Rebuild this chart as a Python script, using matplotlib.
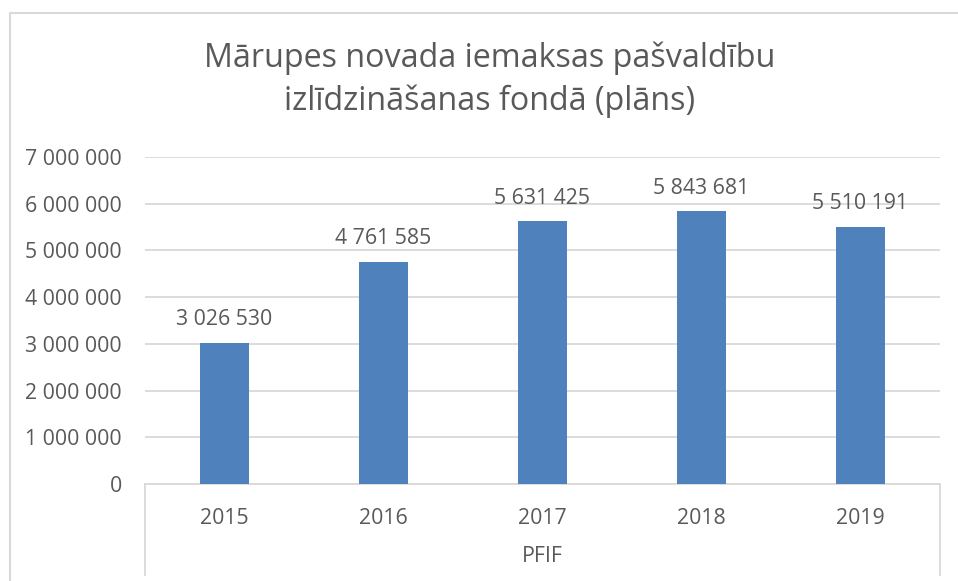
import matplotlib
matplotlib.use("Agg")
import matplotlib.pyplot as plt
from matplotlib.lines import Line2D

plt.rcParams['font.family'] = ['Open Sans', 'DejaVu Sans']

years = ["2015", "2016", "2017", "2018", "2019"]
values = [3026530, 4761585, 5631425, 5843681, 5510191]
yticks = [0, 1000000, 2000000, 3000000, 4000000, 5000000, 6000000, 7000000]
title = "Mārupes novada iemaksas pašvaldību\nizlīdzināšanas fondā (plāns)"
group_label = "PFIF"

W, H = 958, 581
fig = plt.figure(figsize=(W / 100, H / 100), dpi=100)
text_color = "#595959"
grid_color = "#D9D9D9"
bar_color = "#4F81BD"

def fx(px):
    return px / W

def fy(py):
    return 1 - py / H

ax = fig.add_axes([fx(145), fy(484), fx(940) - fx(145), fy(157) - fy(484)])
x = list(range(len(years)))
ax.bar(x, values, width=0.31, color=bar_color, zorder=3)
ax.set_xlim(-0.5, len(years) - 0.5)
ax.set_ylim(0, 7000000)
ax.set_yticks(yticks)
ax.set_yticklabels([f"{v:,}".replace(",", " ") for v in yticks])
ax.set_xticks(x)
ax.set_xticklabels(years)
ax.tick_params(axis='y', length=0, pad=16.5, labelsize=15.3, labelcolor=text_color)
ax.tick_params(axis='x', length=0, pad=17, labelsize=15.3, labelcolor=text_color)
ax.grid(axis='y', color=grid_color, linewidth=1.3, zorder=0)
for s in ['top', 'right', 'left']:
    ax.spines[s].set_visible(False)
ax.spines['bottom'].set_color(grid_color)
ax.spines['bottom'].set_linewidth(1.3)

for xi, v in zip(x, values):
    ax.annotate(f"{v:,}".replace(",", " "), (xi, v), xytext=(0, 12.5),
                textcoords='offset points', ha='center', va='baseline',
                fontsize=15.3, color=text_color, zorder=4)

# category axis group separators
for px in (145, 940):
    fig.add_artist(Line2D([fx(px), fx(px)], [fy(484), fy(575)],
                          color=grid_color, linewidth=1.3))
fig.text(fx(542), fy(557), group_label, ha='center', va='center',
         fontsize=15.3, color=text_color)

# chart border (cropped on right and bottom)
fig.add_artist(Line2D([fx(9.5), fx(9.5), 1.0], [0.0, fy(13), fy(13)],
                      color=grid_color, linewidth=1.5))

fig.text(fx(490), fy(80), title, ha='center', va='center', fontsize=23.2,
         color=text_color, linespacing=1.38)

fig.savefig("out.png", dpi=100)
